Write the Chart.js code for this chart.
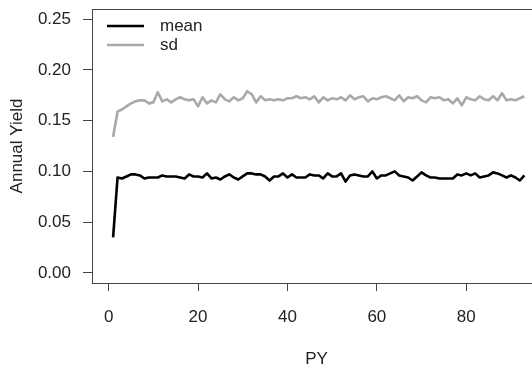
<!DOCTYPE html>
<html>
<head>
<meta charset="utf-8">
<script src="https://cdn.jsdelivr.net/npm/chart.js@4/dist/chart.umd.min.js"></script>
<style>
html,body{margin:0;padding:0;overflow:hidden;background:#fff;}
canvas{display:block;}
</style>
</head>
<body>
<canvas id="c" width="545" height="372"></canvas>
<script>
const PY = [1,2,3,4,5,6,7,8,9,10,11,12,13,14,15,16,17,18,19,20,21,22,23,24,25,26,27,28,29,30,
31,32,33,34,35,36,37,38,39,40,41,42,43,44,45,46,47,48,49,50,51,52,53,54,55,56,57,58,59,60,
61,62,63,64,65,66,67,68,69,70,71,72,73,74,75,76,77,78,79,80,81,82,83,84,85,86,87,88,89,90,91,92,93];

const meanYield = [0.035,0.094,0.093,0.095,0.097,0.097,0.096,0.093,0.094,0.094,
0.094,0.096,0.095,0.095,0.095,0.094,0.093,0.097,0.095,0.095,
0.094,0.098,0.093,0.094,0.092,0.095,0.097,0.094,0.092,0.095,
0.098,0.098,0.097,0.097,0.095,0.091,0.095,0.095,0.098,0.094,
0.097,0.094,0.094,0.094,0.097,0.096,0.096,0.093,0.098,0.095,
0.095,0.098,0.090,0.096,0.097,0.096,0.095,0.095,0.100,0.093,
0.096,0.096,0.098,0.100,0.096,0.095,0.094,0.091,0.095,0.099,
0.096,0.094,0.094,0.093,0.093,0.093,0.093,0.097,0.096,0.098,
0.096,0.098,0.094,0.095,0.096,0.099,0.098,0.096,0.094,0.096,
0.094,0.091,0.096];

const sdYield = [0.134,0.159,0.161,0.164,0.167,0.169,0.170,0.170,0.167,0.168,
0.178,0.169,0.171,0.168,0.171,0.173,0.171,0.170,0.171,0.164,
0.173,0.167,0.170,0.168,0.176,0.171,0.169,0.173,0.170,0.172,
0.179,0.176,0.168,0.174,0.170,0.171,0.170,0.171,0.170,0.172,
0.172,0.174,0.172,0.173,0.171,0.174,0.168,0.173,0.170,0.172,
0.171,0.173,0.170,0.175,0.171,0.173,0.174,0.169,0.172,0.171,
0.173,0.174,0.172,0.170,0.175,0.169,0.173,0.172,0.174,0.170,
0.168,0.173,0.172,0.173,0.170,0.171,0.167,0.172,0.165,0.173,
0.171,0.170,0.174,0.171,0.170,0.174,0.170,0.177,0.170,0.171,
0.170,0.172,0.174];

const xTicks = [0,20,40,60,80];
const yTicks = [0.00,0.05,0.10,0.15,0.20,0.25];
const seriesNames = ['mean','sd'];
const seriesColors = ['#000000','#a9a9a9'];

const FONT = 'Liberation Sans, Arial, Helvetica, sans-serif';
const FS = 17;
const TXT = '#222';
const AX = '#444';

const boxPlugin = {
  id:'box',
  afterDraw(chart){
    const {ctx, chartArea:a} = chart;
    ctx.save();
    ctx.strokeStyle = AX; ctx.lineWidth = 1;
    ctx.strokeRect(Math.round(a.left)+0.5, Math.round(a.top)+0.5, Math.round(a.right-a.left), Math.round(a.bottom-a.top));
    ctx.restore();
  }
};
const legendPlugin = {
  id:'rlegend',
  afterDraw(chart){
    const {ctx} = chart;
    ctx.save();
    ctx.font = FS + 'px ' + FONT;
    ctx.textBaseline = 'middle';
    chart.data.datasets.forEach((ds,i)=>{
      const y = 26 + i*19;
      ctx.strokeStyle = ds.borderColor; ctx.lineWidth = ds.borderWidth;
      ctx.beginPath(); ctx.moveTo(107,y); ctx.lineTo(144,y); ctx.stroke();
      ctx.fillStyle = TXT;
      ctx.fillText(ds.label, 160, y);
    });
    ctx.restore();
  }
};

new Chart(document.getElementById('c'), {
  type:'line',
  data:{
    labels: PY,
    datasets:[
      {label:seriesNames[0], data:meanYield, borderColor:seriesColors[0], borderWidth:2.6, pointRadius:0, tension:0, borderJoinStyle:'round', fill:false},
      {label:seriesNames[1], data:sdYield, borderColor:seriesColors[1], borderWidth:2.6, pointRadius:0, tension:0, borderJoinStyle:'round', fill:false}
    ]
  },
  options:{
    responsive:false,
    animation:false,
    devicePixelRatio:1,
    layout:{padding:{top:9,right:4,left:0,bottom:0}},
    plugins:{legend:{display:false}, tooltip:{enabled:false}},
    scales:{
      x:{
        type:'linear', min:-3.72, max:96.72,
        afterBuildTicks(s){ s.ticks = xTicks.map(v=>({value:v})); },
        afterFit(s){ s.height = 89; s.paddingLeft = 0; s.paddingRight = 0; },
        grid:{drawOnChartArea:false, drawTicks:true, tickLength:8, color:AX, offset:false},
        border:{display:false},
        ticks:{color:TXT, font:{family:FONT, size:FS}, padding:16, maxRotation:0, callback:v=>String(v)},
        title:{display:true, text:'PY', color:TXT, font:{family:FONT, size:FS}, padding:{top:0,bottom:2.5}}
      },
      y:{
        min:-0.01, max:0.26,
        afterBuildTicks(s){ s.ticks = yTicks.map(v=>({value:v})); },
        afterFit(s){ s.width = 92; s.paddingTop = 0; s.paddingBottom = 0; },
        grid:{drawOnChartArea:false, drawTicks:true, tickLength:9, color:AX},
        border:{display:false},
        ticks:{color:TXT, font:{family:FONT, size:FS}, padding:12, callback:v=>v.toFixed(2)},
        title:{display:true, text:'Annual Yield', color:TXT, font:{family:FONT, size:FS}, padding:{top:7,bottom:0}}
      }
    }
  },
  plugins:[boxPlugin, legendPlugin]
});
</script>
</body>
</html>
